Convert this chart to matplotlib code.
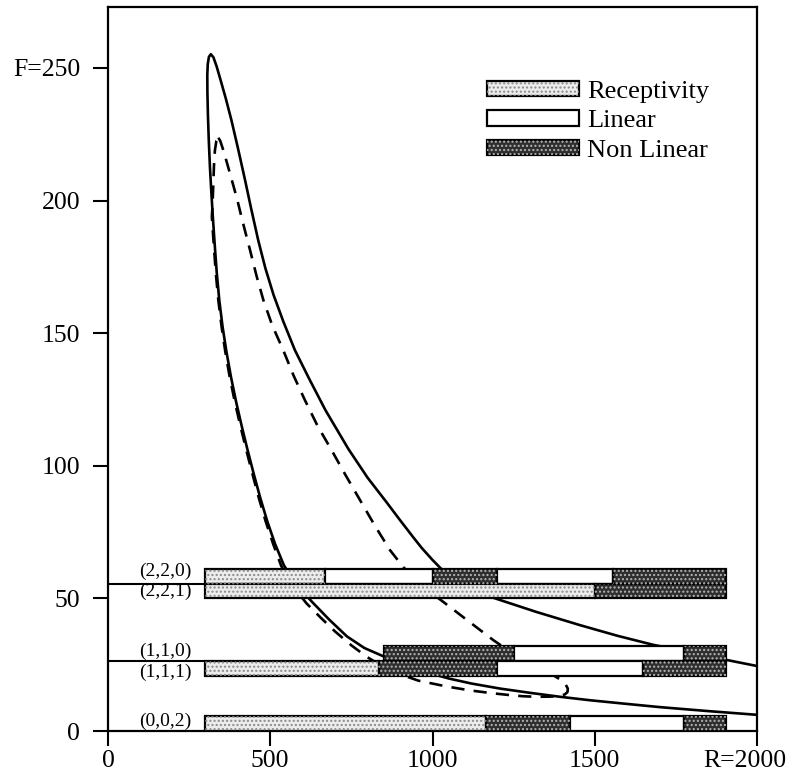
import matplotlib
matplotlib.use("Agg")
import matplotlib.pyplot as plt
from matplotlib.patches import Patch
from matplotlib.legend_handler import HandlerTuple
import matplotlib.transforms as mtransforms

plt.rcParams['font.family'] = ['Liberation Serif', 'DejaVu Serif']

# neutral curve (solid): R, F
# upper branch from R=2000 up to the tip
upper_R = [2000, 1906, 1820, 1750, 1680, 1570, 1455, 1320, 1208, 1150, 1090, 1044, 1000, 967,
           941, 900, 860, 800, 741, 670, 620, 576, 540, 510, 485, 463, 442, 421, 400, 380,
           363, 348, 335, 325, 317]
upper_F = [24.5, 26.8, 29.0, 30.8, 32.5, 35.9, 39.9, 44.9, 49.4, 51.8, 55.0, 59.0, 64.5, 69.0,
           73.0, 79.5, 86.0, 95.5, 106.3, 121.0, 132.8, 143.6, 154.5, 164.5, 174.5, 185.0, 196.5, 208.5, 220.0, 230.5,
           238.5, 245.0, 250.5, 254.0, 255.2]
# lower branch from the tip down and out to R=2000
lower_R = [311, 307.5, 306, 306.3, 308, 310.5, 314, 318.5, 323, 328.5, 335, 343, 353, 365,
           379, 395, 412, 430, 449, 469, 491, 515, 542, 575, 628, 680, 736, 790, 848,
           900, 950, 1000, 1050, 1120, 1208, 1300, 1393, 1485, 1600, 1701, 1850, 2000]
lower_F = [254.2, 251.5, 247.5, 241.0, 232.0, 223.0, 213.0, 203.0, 194.0, 184.0, 173.0, 162.4, 152.5, 143.0,
           133.5, 124.0, 115.0, 106.0, 97.0, 88.0, 79.0, 70.5, 62.5, 56.0, 48.8, 42.2, 35.7, 31.3, 28.2,
           25.6, 23.4, 21.5, 19.8, 17.9, 16.0, 14.4, 12.9, 11.6, 10.2, 9.0, 7.5, 6.1]

# inner curve (dashed): tip, right branch, nose, then back up the left side
dash_R = [340, 346, 354, 366, 381, 398, 414, 438, 458, 479, 506, 540, 572, 607, 646, 689,
          732, 777, 822, 869, 910, 965, 1033, 1110, 1187, 1218, 1270, 1330, 1370, 1395,
          1410, 1417, 1416, 1408, 1390, 1360, 1320, 1280, 1249, 1187, 1116, 1043, 956, 880,
          840, 797, 750, 700, 655, 612, 560, 533, 509, 486, 464.5, 445, 426, 408, 391, 375,
          361.5, 350, 340, 332, 325.5, 320, 322, 324.5, 326.5, 329.5, 334, 340]
dash_F = [223.7, 222.5, 219.5, 214.5, 208.0, 200.5, 192.5, 181.2, 171.5, 162.4, 153.0, 143.6, 134.0, 124.7, 115.0, 105.9,
          96.5, 87.0, 77.5, 68.2, 61.8, 55.0, 48.7, 41.5, 34.3, 31.7, 27.5, 23.6, 21.2, 19.3,
          17.6, 16.0, 14.7, 13.8, 13.2, 12.95, 12.9, 13.1, 13.4, 14.2, 15.3, 16.8, 19.0, 22.3,
          24.8, 28.0, 32.3, 37.5, 42.8, 48.1, 56.0, 62.5, 70.5, 79.0, 88.0, 97.0, 106.0, 115.0, 124.0, 133.5,
          143.0, 152.5, 162.4, 173.0, 184.0, 194.0, 198.0, 206.0, 213.0, 219.0, 222.5, 223.7]

# bar rows
row_labels = ['(2,2,0)', '(2,2,1)', '(1,1,0)', '(1,1,1)', '(0,0,2)']
row_bottom = [55.6, 50.0, 26.5, 20.7, 0.0]
row_top = [61.0, 55.6, 32.0, 26.5, 5.6]
row_label_F = [60.3, 52.5, 30.0, 22.0, 3.5]
row_edges = [[300, 670, 1000, 1200, 1555, 1905],
             [300, 1500, 1905],
             [850, 1250, 1775, 1905],
             [300, 835, 1200, 1650, 1905],
             [300, 1165, 1425, 1775, 1905]]
row_kinds = [['R', 'L', 'N', 'L', 'N'],
             ['R', 'N'],
             ['N', 'L', 'N'],
             ['R', 'N', 'L', 'N'],
             ['R', 'N', 'L', 'N']]
divider_F = [55.6, 26.5]

kind_names = {'R': 'Receptivity', 'L': 'Linear', 'N': 'Non Linear'}
kind_face = {'R': '#ececec', 'L': 'white', 'N': '#2e2e2e'}
kind_dots = {'R': '#8a8a8a', 'L': None, 'N': '#b5b5b5'}

fig = plt.figure(figsize=(7.93, 7.80), dpi=100)
ax = fig.add_axes([108 / 793, 49 / 780, 649 / 793, 724 / 780])

ax.plot(upper_R + lower_R, upper_F + lower_F, color='black', lw=1.9, zorder=2,
        solid_joinstyle='round')
ax.plot(dash_R, dash_F, color='black', lw=1.9, ls=(0, (5, 3.5)), zorder=2)

for f in divider_F:
    ax.hlines(f, 0, 300, color='black', lw=1.5, zorder=2)

for i in range(len(row_labels)):
    edges = row_edges[i]
    h = row_top[i] - row_bottom[i]
    for j, k in enumerate(row_kinds[i]):
        ax.barh(row_bottom[i], edges[j + 1] - edges[j], left=edges[j], height=h,
                align='edge', facecolor=kind_face[k], edgecolor='black', lw=1.6, zorder=3)
        if kind_dots[k]:
            ax.barh(row_bottom[i], edges[j + 1] - edges[j], left=edges[j], height=h,
                    align='edge', facecolor='none', edgecolor=kind_dots[k], lw=0,
                    hatch='....', zorder=3.5)
    ax.text(258, row_label_F[i], row_labels[i], ha='right', va='center', fontsize=14)

# legend
handles = []
for k in ['R', 'L', 'N']:
    base = Patch(facecolor=kind_face[k], edgecolor='black', lw=1.6)
    if kind_dots[k]:
        dots = Patch(facecolor='none', edgecolor=kind_dots[k], lw=0, hatch='....')
        handles.append((base, dots))
    else:
        handles.append((base,))
ax.legend(handles, [kind_names[k] for k in ['R', 'L', 'N']],
          handler_map={tuple: HandlerTuple(ndivide=1, pad=0)},
          loc='upper left', bbox_to_anchor=(0.584, 0.898), frameon=False,
          fontsize=19, handlelength=3.5, handleheight=0.53, handletextpad=0.3,
          labelspacing=0.28, borderpad=0, borderaxespad=0)

ax.set_xlim(0, 2000)
ax.set_ylim(0, 273)
ax.set_xticks([0, 500, 1000, 1500, 2000])
ax.set_xticklabels(['0', '500', '1000', '1500', 'R=2000'])
ax.set_yticks([0, 50, 100, 150, 200, 250])
ax.set_yticklabels(['0', '50', '100', '150', '200', 'F=250'])
ax.tick_params(direction='out', length=11, width=1.5, labelsize=18.5)
ax.tick_params(axis='x', pad=3)
ax.tick_params(axis='y', pad=9)
for s in ax.spines.values():
    s.set_linewidth(1.6)

lab = ax.get_xticklabels()[-1]
lab.set_transform(lab.get_transform() + mtransforms.ScaledTranslation(-12 / 100, 0, fig.dpi_scale_trans))

fig.savefig('out.png', dpi=100)
